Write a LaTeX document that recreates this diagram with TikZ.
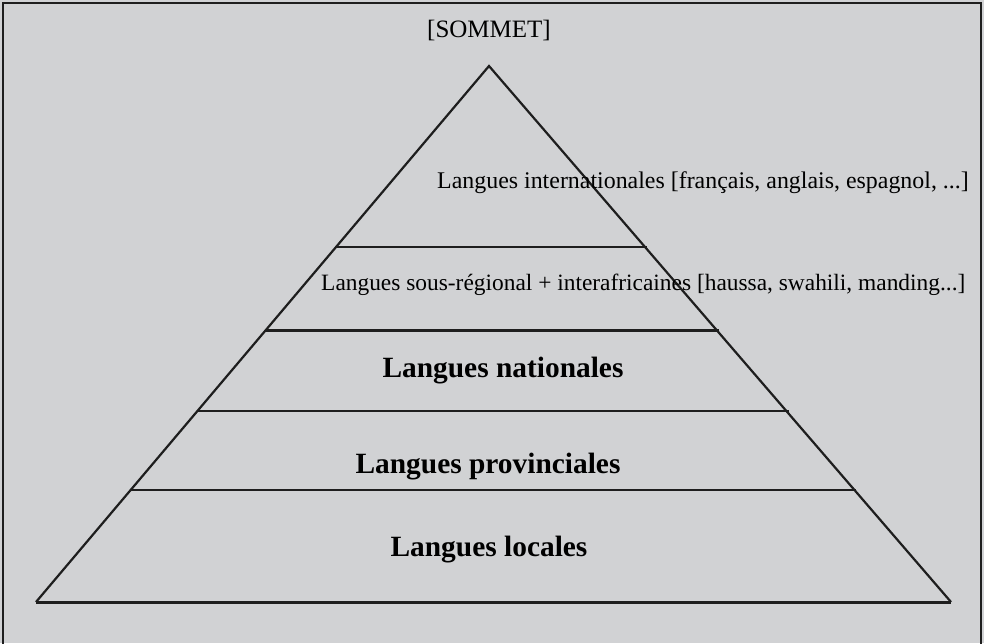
\documentclass[tikz,border=0pt]{standalone}
\usepackage{fontspec}
\setmainfont{Liberation Serif}
\usetikzlibrary{calc}

\definecolor{fond}{RGB}{209,210,212}
\definecolor{trait}{RGB}{30,30,30}

\tikzset{
	niveau/.style = {font = \fontsize{29.4}{34}\selectfont\bfseries, inner sep = 0pt, anchor = base},
	glose/.style = {font = \fontsize{23.6}{28}\selectfont, inner sep = 0pt},
	palier/.style = {line width = 2.6pt, trait}
}

\begin{document}
\begin{tikzpicture}[x = 1pt, y = -1pt]

	% Background and frame

	\fill [fond] (0, 0) rectangle (984, 643);
	\useasboundingbox (0, 0) rectangle (984, 643);
	\draw [line width = 2.8pt, trait] (3, 650) -- (3, 3) -- (981, 3) -- (981, 650);

	% Pyramid outline

	\coordinate (sommet) at (489, 66);
	\coordinate (basegauche) at (36, 602);
	\coordinate (basedroite) at (951, 602);

	\draw [line width = 2.2pt, trait] (basegauche) -- (sommet) -- (basedroite);
	\draw [line width = 3pt, trait] (basegauche) -- (basedroite);

	% Horizontal steps

	\foreach \nom/\t in {un/0.338, deux/0.494, trois/0.644, quatre/0.791} {
		\coordinate (g\nom) at ($(sommet)!\t!(basegauche)$);
		\coordinate (d\nom) at ($(sommet)!\t!(basedroite) + (2, 0)$);
		\draw [palier] (g\nom) -- (d\nom);
	}

	% Labels

	\node [glose, font = \fontsize{25}{30}\selectfont] (titre) at (489, 30) {[SOMMET]};
	\node [glose, font = \fontsize{23.9}{28}\selectfont, anchor = base west] (inter) at (437, 188) {Langues internationales [français, anglais, espagnol, ...]};
	\node [glose, font = \fontsize{23.4}{28}\selectfont, anchor = base west] (sousreg) at (321, 290) {Langues sous-régional + interafricaines [haussa, swahili, manding...]};
	\node [niveau] (nat) at (503, 377) {Langues nationales};
	\node [niveau] (prov) at (488, 473) {Langues provinciales};
	\node [niveau] (loc) at (489, 556) {Langues locales};

\end{tikzpicture}
\end{document}
